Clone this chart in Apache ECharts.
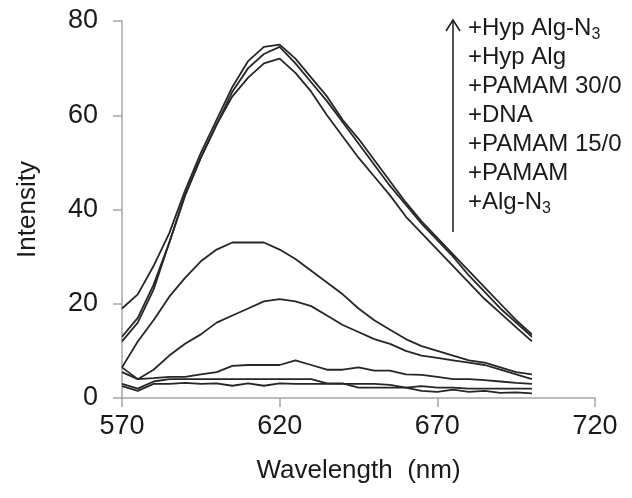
<!DOCTYPE html>
<html>
<head>
<meta charset="utf-8">
<script src="https://cdn.jsdelivr.net/npm/echarts@6/dist/echarts.min.js"></script>
<style>
  html, body { margin: 0; padding: 0; background: #fff; }
  #chart { width: 632px; height: 498px; }
</style>
</head>
<body>
<div id="chart"></div>
<script>
// wavelength (nm), shared by every trace
const wavelengths = [570, 575, 580, 585, 590, 595, 600, 605, 610, 615, 620, 625, 630, 635, 640, 645, 650, 655, 660, 665, 670, 675, 680, 685, 690, 695, 700];

// traces, highest first
const highA = [19, 22, 28, 35, 44, 52, 59, 66, 71.5, 74.5, 75, 72, 68, 64, 59, 55, 50.5, 46, 41.5, 37.5, 34, 30.5, 27, 23.5, 20, 16.5, 13.5];
const highB = [13, 17, 24, 33, 43, 51, 58, 65, 70, 73, 74.5, 71, 67, 63, 58.5, 54, 49.5, 45, 41, 37, 33.5, 30, 26, 22.5, 19, 16, 13];
const highC = [12, 16, 23, 33, 43, 51, 58, 64, 68, 71, 72, 69, 65, 60, 55.5, 51, 47, 43, 38.5, 35, 31.5, 28, 24.5, 21, 18, 15, 12];
const mid33 = [6.5, 12, 16.5, 21.5, 25.5, 29, 31.5, 33, 33, 33, 31.5, 29.5, 27, 24.5, 22, 19, 16.5, 14.5, 12.5, 11, 10, 9, 8, 7.5, 6.5, 5.5, 5];
const mid21 = [6.5, 4, 6, 9, 11.5, 13.5, 16, 17.5, 19, 20.5, 21, 20.5, 19.5, 17.5, 15.5, 14, 12.5, 11.5, 10, 9, 8.5, 8, 7.5, 7, 6, 5, 4];
const lowA = [5.5, 4, 4.2, 4.5, 4.5, 5, 5.5, 6.8, 7, 7, 7, 8, 7, 6, 6, 6.5, 5.8, 5.8, 5, 4.9, 4.5, 4, 4, 3.8, 3.5, 3.2, 3];
const lowB = [3, 2, 3.5, 4, 4, 4, 4, 4, 4, 4, 4, 4, 4, 3.1, 3.1, 2.2, 2.2, 2.2, 2.2, 2.5, 2.2, 2.2, 2, 2, 2, 2, 2];
const lowC = [2.5, 1.5, 3, 3, 3.2, 3, 3.1, 2.6, 3.1, 2.6, 3.1, 3, 3, 3, 3, 3, 3, 2.8, 2.2, 1.5, 1.3, 1.8, 1.3, 1.5, 1.1, 1.2, 1];

const traces = [highA, highB, highC, mid33, mid21, lowA, lowB, lowC];

// arrow annotation, top to bottom
const steps = ['+Hyp Alg-N{s|3}', '+Hyp Alg', '+PAMAM 30/0', '+DNA', '+PAMAM 15/0', '+PAMAM', '+Alg-N{s|3}'];

const FONT = '"Liberation Sans", Arial, sans-serif';
const INK = '#1a1a1a';
const AXIS = '#a6a6a6';

const chart = echarts.init(document.getElementById('chart'), null, { renderer: 'canvas' });

const series = traces.map((vals, i) => ({
    type: 'line',
    name: 'trace' + i,
    data: wavelengths.map((w, j) => [w, vals[j]]),
    showSymbol: false,
    silent: true,
    lineStyle: { color: '#262626', width: 1.8 },
}));

const stepTexts = steps.map((t, i) => ({
    type: 'text',
    x: 468,
    y: 28 + i * 29,
    style: {
        text: t,
        fill: INK,
        fontSize: 24,
        fontFamily: FONT,
        verticalAlign: 'middle',
        rich: {
            s: { fontSize: 16, fontFamily: FONT, fill: INK, verticalAlign: 'bottom', padding: [14, 0, 0, 0] },
        },
    },
}));

chart.setOption({
    animation: false,
    backgroundColor: '#fff',
    grid: { left: 122, right: 37, top: 21, bottom: 100 },
    xAxis: {
        type: 'value',
        min: 570, max: 720, interval: 50,
        name: 'Wavelength  (nm)',
        nameLocation: 'middle',
        nameGap: 60,
        nameTextStyle: { fontSize: 26, fontFamily: FONT, color: INK },
        axisLine: { lineStyle: { color: AXIS, width: 1.5 } },
        axisTick: { show: true, length: 9, lineStyle: { color: AXIS, width: 1.5 } },
        axisLabel: { fontSize: 27, fontFamily: FONT, color: INK, margin: 15 },
        splitLine: { show: false },
    },
    yAxis: {
        type: 'value',
        min: 0, max: 80, interval: 20,
        name: 'Intensity',
        nameLocation: 'middle',
        nameGap: 81,
        nameTextStyle: { fontSize: 26, fontFamily: FONT, color: INK },
        axisLine: { show: true, lineStyle: { color: AXIS, width: 1.5 } },
        axisTick: { show: true, length: 9, lineStyle: { color: AXIS, width: 1.5 } },
        axisLabel: { fontSize: 27, fontFamily: FONT, color: INK, margin: 24 },
        splitLine: { show: false },
    },
    series: series,
    graphic: [
        { type: 'line', shape: { x1: 453, y1: 232, x2: 453, y2: 20 }, style: { stroke: INK, lineWidth: 1.5 } },
        { type: 'polyline', shape: { points: [[446, 31], [453, 20], [460, 31]] }, style: { stroke: INK, lineWidth: 1.5, fill: null } },
        ...stepTexts,
    ],
});
</script>
</body>
</html>
